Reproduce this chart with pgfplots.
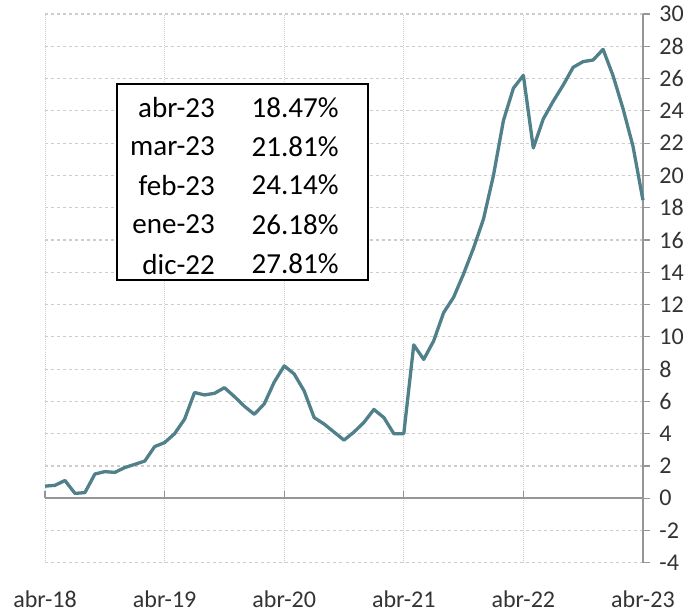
\documentclass[border=0pt]{standalone}
\usepackage{fontspec}
\setmainfont{Carlito}
\usepackage{pgfplots}
\pgfplotsset{compat=1.18}
\definecolor{linea}{RGB}{80,128,137}
\definecolor{rejilla}{RGB}{205,205,205}
\definecolor{eje}{RGB}{150,150,150}

\begin{document}
\begin{tikzpicture}
\begin{axis}[
  scale only axis,
  width=597pt, height=548pt,
  xmin=0, xmax=60, ymin=-4, ymax=30,
  clip=false,
  separate axis lines,
  axis x line*=bottom,
  axis y line*=right,
  x axis line style={draw=none},
  y axis line style={eje, line width=1.5pt},
  xtick={0,12,24,36,48,60},
  xticklabels={abr-18,abr-19,abr-20,abr-21,abr-22,abr-23},
  x tick style={draw=none},
  xticklabel style={font=\fontsize{24}{26}\selectfont, text=black!80, inner sep=0.5pt, yshift=-20pt},
  ytick={-4,-2,...,30},
  yticklabel pos=right,
  y tick style={eje, line width=1.2pt},
  tick align=outside,
  major tick length=7pt,
  yticklabel style={font=\fontsize{24}{26}\selectfont, text=black!80, xshift=6pt,
    /pgf/number format/assume math mode=true},
  xmajorgrids, ymajorgrids,
  x grid style={rejilla, line width=1pt, densely dotted},
  y grid style={rejilla, line width=1.2pt, dashed},
]
\addplot[linea, line width=3.3pt, line join=round] coordinates {
(0,0.75) (1,0.8) (2,1.1) (3,0.3) (4,0.35) (5,1.5) (6,1.65) (7,1.6)
(8,1.9) (9,2.1) (10,2.3) (11,3.2) (12,3.45) (13,4.0) (14,4.9) (15,6.55)
(16,6.4) (17,6.5) (18,6.85) (19,6.3) (20,5.7) (21,5.2) (22,5.85) (23,7.2)
(24,8.2) (25,7.7) (26,6.65) (27,5.0) (28,4.6) (29,4.1) (30,3.6) (31,4.1)
(32,4.7) (33,5.5) (34,5.0) (35,4.0) (36,4.0) (37,9.5) (38,8.6) (39,9.75)
(40,11.5) (41,12.45) (42,13.9) (43,15.5) (44,17.3) (45,20.0) (46,23.4) (47,25.4)
(48,26.2) (49,21.7) (50,23.5) (51,24.6) (52,25.6) (53,26.7) (54,27.05) (55,27.15)
(56,27.81) (57,26.18) (58,24.14) (59,21.81) (60,18.47)
};
% eje en cero con marcas anuales
\draw[eje, line width=1.5pt] (axis cs:0,0) -- (axis cs:60,0);
\pgfplotsinvokeforeach{0,12,24,36,48}{
  \draw[eje, line width=1.2pt] (axis cs:#1,0) -- ++(0pt,7pt);
}
% recuadro con los ultimos valores
\draw[black, line width=2pt, fill=white] (axis cs:7.24,25.65) rectangle (axis cs:32.4,13.5);
\node[anchor=east, font=\fontsize{29}{32}\selectfont] at (axis cs:17.4,24.2) {abr-23};
\node[anchor=east, font=\fontsize{29}{32}\selectfont] at (axis cs:17.4,21.8) {mar-23};
\node[anchor=east, font=\fontsize{29}{32}\selectfont] at (axis cs:17.4,19.4) {feb-23};
\node[anchor=east, font=\fontsize{29}{32}\selectfont] at (axis cs:17.4,16.95) {ene-23};
\node[anchor=east, font=\fontsize{29}{32}\selectfont] at (axis cs:17.4,14.5) {dic-22};
\node[font=\fontsize{29}{32}\selectfont] at (axis cs:25.1,24.2) {18.47\%};
\node[font=\fontsize{29}{32}\selectfont] at (axis cs:25.1,21.8) {21.81\%};
\node[font=\fontsize{29}{32}\selectfont] at (axis cs:25.1,19.4) {24.14\%};
\node[font=\fontsize{29}{32}\selectfont] at (axis cs:25.1,16.95) {26.18\%};
\node[font=\fontsize{29}{32}\selectfont] at (axis cs:25.1,14.5) {27.81\%};
\end{axis}
\path[use as bounding box] ([xshift=-45pt,yshift=-49pt]current axis.south west)
  rectangle ([xshift=48pt,yshift=14pt]current axis.north east);
\end{tikzpicture}
\end{document}
